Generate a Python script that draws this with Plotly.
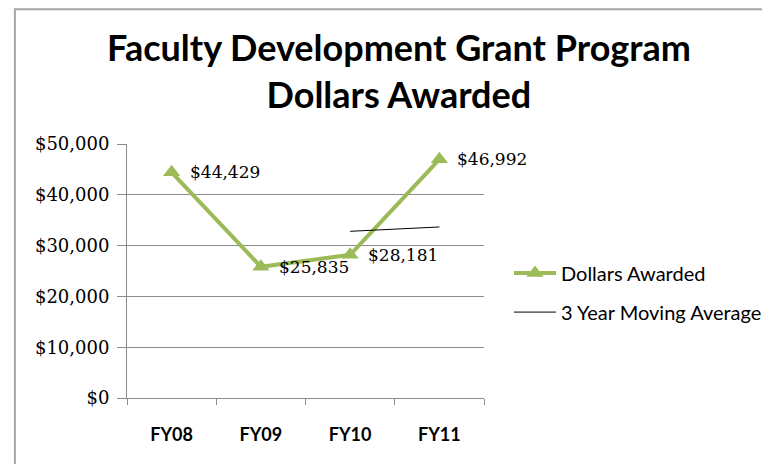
import plotly.graph_objects as go

# Chart data
years = ['FY08', 'FY09', 'FY10', 'FY11']
dollars = [44429, 25835, 28181, 46992]
moving_avg = [None, None, 32815, 33669]
labels = ['$44,429', '$25,835', '$28,181', '$46,992']
y_ticks = [0, 10000, 20000, 30000, 40000, 50000]
y_tick_text = ['$0', '$10,000', '$20,000', '$30,000', '$40,000', '$50,000']

green = '#9BBB59'
grid = '#8C8C8C'
serif = 'DejaVu Serif'

fig = go.Figure()
# Dollars awarded line with triangle markers
fig.add_trace(
    go.Scatter(
        name='Dollars Awarded',
        legendgroup='a',
        x=years,
        y=dollars,
        mode='lines+markers',
        line=dict(color=green, width=4),
        marker=dict(symbol='triangle-up', size=15, color=green),
        cliponaxis=False
    )
)
# Moving average trendline
fig.add_trace(
    go.Scatter(
        name='3 Year Moving Average',
        legendgroup='b',
        x=years,
        y=moving_avg,
        mode='lines',
        line=dict(color='#000000', width=1)
    )
)

# Data labels to the right of each point
for xv, yv, lab in zip(years, dollars, labels):
    fig.add_annotation(
        x=xv, y=yv, text=lab, showarrow=False,
        xanchor='left', yanchor='middle', xshift=16,
        font=dict(family=serif, size=17, color='#000000')
    )

fig.update_xaxes(
    type='category',
    range=[-0.5, 3.5],
    showgrid=False,
    showline=True, linecolor=grid, linewidth=1,
    ticks='outside', tickson='boundaries', ticklen=6, tickcolor=grid,
    ticklabelstandoff=20,
    tickfont=dict(family='Lato', size=18, color='#000000', weight='bold')
)
fig.update_yaxes(
    range=[0, 50000],
    tickvals=y_ticks,
    ticktext=y_tick_text,
    showgrid=True, gridcolor=grid, gridwidth=1,
    showline=True, linecolor=grid, linewidth=1,
    ticks='outside', ticklen=9, tickcolor=grid,
    ticklabelstandoff=4,
    zeroline=False,
    tickfont=dict(family=serif, size=18, color='#000000')
)

# Outer chart border
fig.add_shape(
    type='rect', xref='paper', yref='paper',
    x0=-0.314, x1=1.9, y0=-0.3, y1=1.531,
    line=dict(color='#A6A6A6', width=2), layer='below'
)

fig.update_layout(
    title=dict(
        text='Faculty Development Grant Program<br>Dollars Awarded',
        x=0.513, xanchor='center', y=0.884, yanchor='middle',
        font=dict(family='Lato', size=36, color='#000000', weight='bold')
    ),
    width=762, height=456,
    paper_bgcolor='#FFFFFF',
    plot_bgcolor='#FFFFFF',
    margin=dict(l=119, r=286, t=136, b=66, autoexpand=False),
    showlegend=True,
    legend=dict(
        x=1.07, y=0.415, xanchor='left', yanchor='middle',
        font=dict(family='Lato', size=20, color='#000000'),
        bgcolor='rgba(0,0,0,0)', tracegroupgap=10, traceorder='grouped',
        itemwidth=42
    )
)

fig.write_html('out.html')
